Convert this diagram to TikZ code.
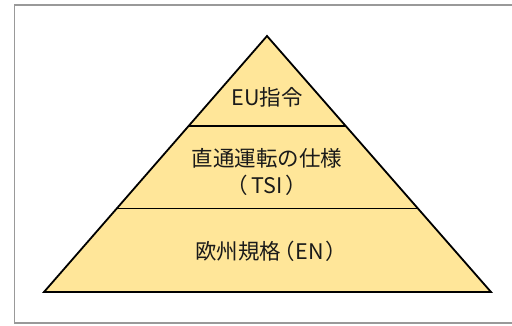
\documentclass[tikz,border=0pt]{standalone}
\usepackage{fontspec}
\setmainfont{Noto Sans CJK JP}
\definecolor{pyrfill}{HTML}{FFE699}
\definecolor{framegray}{HTML}{999999}
\definecolor{txt}{HTML}{1A1A1A}
\begin{document}
\begin{tikzpicture}[x=1pt,y=-1pt,
  level/.style={draw=black,line width=1.8pt,line join=miter},
  divider/.style={draw=black,line width=1.8pt},
  lbl/.style={text=txt,font=\fontsize{21.5}{27}\selectfont,align=center,inner sep=0pt}]
\useasboundingbox (0,0) rectangle (512,325);
\draw[framegray,line width=1.5pt] (512,5) -- (14.5,5) -- (14.5,323) -- (512,323);
\coordinate (apex) at (267,36);
\coordinate (bl) at (44,292);
\coordinate (br) at (491,292);
\fill[pyrfill] (apex) -- (br) -- (bl) -- cycle;
\coordinate (l1) at (188.6,126);
\coordinate (r1) at (345.4,126);
\coordinate (l2) at (116.7,208.5);
\coordinate (r2) at (417.3,208.5);
\draw[divider] (l1) -- (r1);
\draw[divider] (l2) -- (r2);
\draw[level] (apex) -- (br) -- (bl) -- cycle;
\node[lbl] (top) at (267,97) {EU指令};
\node[lbl] (mid) at (267,172) {直通運転の仕様\\（\kern3pt TSI\kern3pt）};
\node[lbl] (bot) at (267,251) {欧州規格\kern-8pt（\kern1pt EN\kern1pt）\kern-8pt};
\end{tikzpicture}
\end{document}
